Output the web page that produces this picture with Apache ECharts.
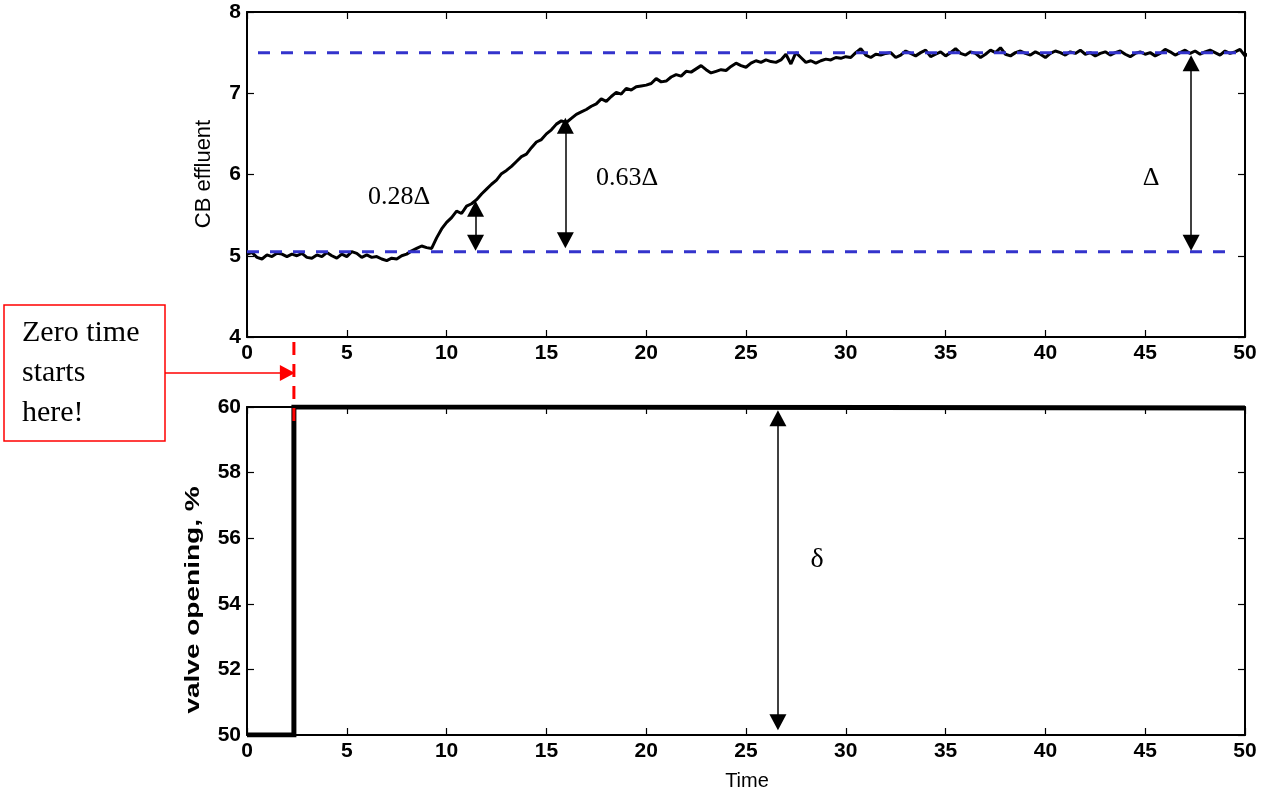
<!DOCTYPE html>
<html>
<head>
<meta charset="utf-8">
<script src="https://cdn.jsdelivr.net/npm/echarts@6/dist/echarts.min.js"></script>
<style>
html, body { margin: 0; padding: 0; background: #fff; }
#main { width: 1264px; height: 796px; }
</style>
</head>
<body>
<div id="main"></div>
<script>
// sampled every 0.25 time units, t = 0 .. 50
var timeStep = 0.25;
var cbEffluent = [
	5.02, 5.04, 4.98, 4.96, 5.01, 4.99, 5.03, 5.02,
	4.99, 5.02, 5.00, 5.03, 4.98, 4.97, 5.01, 4.99,
	5.04, 5.00, 4.97, 5.02, 4.99, 5.05, 5.03, 4.98,
	5.01, 4.98, 4.99, 4.96, 4.94, 4.97, 4.96, 5.00,
	5.02, 5.06, 5.09, 5.12, 5.10, 5.09, 5.22, 5.33,
	5.41, 5.47, 5.55, 5.52, 5.61, 5.64, 5.69, 5.76,
	5.82, 5.88, 5.93, 6.01, 6.05, 6.10, 6.16, 6.22,
	6.25, 6.33, 6.40, 6.43, 6.50, 6.55, 6.62, 6.66,
	6.64, 6.69, 6.74, 6.77, 6.80, 6.84, 6.87, 6.93,
	6.90, 6.96, 7.01, 6.99, 7.06, 7.04, 7.08, 7.09,
	7.10, 7.12, 7.18, 7.14, 7.15, 7.20, 7.23, 7.21,
	7.27, 7.26, 7.30, 7.34, 7.29, 7.25, 7.27, 7.29,
	7.28, 7.33, 7.37, 7.34, 7.32, 7.37, 7.40, 7.38,
	7.41, 7.39, 7.38, 7.41, 7.48, 7.36, 7.50, 7.44,
	7.38, 7.40, 7.37, 7.40, 7.42, 7.41, 7.44, 7.43,
	7.45, 7.44, 7.50, 7.55, 7.47, 7.44, 7.48, 7.47,
	7.49, 7.50, 7.44, 7.47, 7.52, 7.49, 7.46, 7.50,
	7.53, 7.45, 7.48, 7.51, 7.46, 7.50, 7.55, 7.49,
	7.47, 7.51, 7.49, 7.44, 7.48, 7.53, 7.50, 7.56,
	7.48, 7.46, 7.50, 7.52, 7.49, 7.47, 7.51, 7.48,
	7.44, 7.49, 7.52, 7.50, 7.47, 7.51, 7.49, 7.53,
	7.48, 7.50, 7.46, 7.49, 7.51, 7.47, 7.50, 7.52,
	7.48, 7.45, 7.49, 7.51, 7.48, 7.50, 7.46, 7.49,
	7.54, 7.51, 7.47, 7.50, 7.53, 7.49, 7.52, 7.48,
	7.51, 7.53, 7.50, 7.47, 7.52, 7.49, 7.51, 7.54,
	7.46, 7.50
];
// valve step
var valveTime = [0, 2.35, 2.35, 12.7, 12.7, 50];
var valveOpen = [50, 50, 60, 60, 59.97, 59.97];
var zeroTime = 2.35;

// reference levels (dashed blue)
var lowLevel = 5.05, highLevel = 7.5;
var lowLevelSpan = [0, 49.3];
var highLevelSpan = [0.55, 50];

// double arrows: [t, tip low, tip high]
var arrow28 = [11.45, 5.06, 5.68];
var arrow63 = [15.95, 5.09, 6.70];
var arrowDelta = [47.3, 5.06, 7.47];
var arrowSmall = [26.6, 50.15, 59.9];

// tick labels
var timeTicks = [0, 5, 10, 15, 20, 25, 30, 35, 40, 45, 50];
var cbTicks = [4, 5, 6, 7, 8];
var valveTicks = [50, 52, 54, 56, 58, 60];

var cbData = [];
for (var i = 0; i < cbEffluent.length; i++) {
	cbData.push([i * timeStep, cbEffluent[i]]);
}
var valveData = [];
for (var i = 0; i < valveTime.length; i++) {
	valveData.push([valveTime[i], valveOpen[i]]);
}

var tickFont = { fontFamily: 'Liberation Sans', fontWeight: 'bold', fontSize: 21, color: '#000' };

function xAxisOf(grid, pos, labels) {
	return {
		type: 'value', gridIndex: grid, position: pos,
		min: timeTicks[0], max: timeTicks[timeTicks.length - 1], interval: 5,
		axisLine: { show: true, onZero: false, lineStyle: { color: '#000', width: 2 } },
		axisTick: { show: true, inside: true, length: 7, lineStyle: { color: '#000', width: 1.2 } },
		axisLabel: Object.assign({ show: labels, margin: 6 }, tickFont),
		splitLine: { show: false }
	};
}
function yAxisOf(grid, pos, labels, ticks, step) {
	return {
		type: 'value', gridIndex: grid, position: pos,
		min: ticks[0], max: ticks[ticks.length - 1], interval: step,
		axisLine: { show: true, onZero: false, lineStyle: { color: '#000', width: 2 } },
		axisTick: { show: true, inside: true, length: 7, lineStyle: { color: '#000', width: 1.2 } },
		axisLabel: Object.assign({ show: labels, margin: 6 }, tickFont),
		splitLine: { show: false }
	};
}
// markLine symbols are centred on the end point, so pull ends in by half a head
function arrowLine(a, inset) {
	return [{ coord: [a[0], a[1] + inset] }, { coord: [a[0], a[2] - inset] }];
}
function levelLine(level, span) {
	return [[span[0], level], [span[1], level]];
}

var myChart = echarts.init(document.getElementById('main'));
var option = {
	animation: false,
	backgroundColor: '#fff',
	grid: [
		{ left: 247, right: 19, top: 12, height: 325 },
		{ left: 247, right: 19, top: 407, height: 328 }
	],
	xAxis: [
		xAxisOf(0, 'bottom', true),
		xAxisOf(0, 'top', false),
		xAxisOf(1, 'bottom', true),
		xAxisOf(1, 'top', false)
	],
	yAxis: [
		yAxisOf(0, 'left', true, cbTicks, 1),
		yAxisOf(0, 'right', false, cbTicks, 1),
		yAxisOf(1, 'left', true, valveTicks, 2),
		yAxisOf(1, 'right', false, valveTicks, 2)
	],
	series: [{
		name: 'CB effluent',
		type: 'line',
		xAxisIndex: 0, yAxisIndex: 0,
		showSymbol: false,
		data: cbData,
		lineStyle: { color: '#000', width: 3 },
		z: 3,
		markLine: {
			silent: true,
			symbol: ['triangle', 'triangle'],
			symbolSize: [17, 16],
			label: { show: false },
			lineStyle: { color: '#000', width: 1.5, type: 'solid' },
			data: [arrowLine(arrow28, 0.1), arrowLine(arrow63, 0.1), arrowLine(arrowDelta, 0.1)]
		}
	}, {
		name: 'low',
		type: 'line',
		xAxisIndex: 0, yAxisIndex: 0,
		showSymbol: false,
		data: levelLine(lowLevel, lowLevelSpan),
		lineStyle: { color: '#3333cc', width: 3, type: [12, 11] },
		z: 4
	}, {
		name: 'high',
		type: 'line',
		xAxisIndex: 0, yAxisIndex: 0,
		showSymbol: false,
		data: levelLine(highLevel, highLevelSpan),
		lineStyle: { color: '#3333cc', width: 3, type: [12, 11] },
		z: 4
	}, {
		name: 'valve',
		type: 'line',
		xAxisIndex: 2, yAxisIndex: 2,
		showSymbol: false,
		data: valveData,
		lineStyle: { color: '#000', width: 5, join: 'miter' },
		z: 3,
		markLine: {
			silent: true,
			symbol: ['triangle', 'triangle'],
			symbolSize: [17, 16],
			label: { show: false },
			lineStyle: { color: '#000', width: 1.5, type: 'solid' },
			data: [arrowLine(arrowSmall, 0.24)]
		}
	}]
};
myChart.setOption(option);

// annotations
var xz = myChart.convertToPixel({ xAxisIndex: 0 }, zeroTime);
var serif = 'Liberation Serif';
myChart.setOption({
	graphic: [
		{ type: 'text', x: 204, y: 174, rotation: Math.PI / 2,
			style: { text: 'CB effluent', font: '22px "Liberation Sans"', fill: '#000', align: 'center', verticalAlign: 'middle' } },
		{ type: 'text', x: 193, y: 600, rotation: Math.PI / 2, scaleX: 1.4,
			style: { text: 'valve opening, %', font: 'bold 20px "Liberation Sans"', fill: '#000', align: 'center', verticalAlign: 'middle' } },
		{ type: 'text', x: 747, y: 781,
			style: { text: 'Time', font: '20px "Liberation Sans"', fill: '#000', align: 'center', verticalAlign: 'middle' } },
		{ type: 'text', x: 399, y: 197,
			style: { text: '0.28Δ', font: '26px "' + serif + '"', fill: '#000', align: 'center', verticalAlign: 'middle' } },
		{ type: 'text', x: 627, y: 178,
			style: { text: '0.63Δ', font: '26px "' + serif + '"', fill: '#000', align: 'center', verticalAlign: 'middle' } },
		{ type: 'text', x: 1151, y: 178,
			style: { text: 'Δ', font: '26px "' + serif + '"', fill: '#000', align: 'center', verticalAlign: 'middle' } },
		{ type: 'text', x: 817, y: 560,
			style: { text: 'δ', font: '28px "' + serif + '"', fill: '#000', align: 'center', verticalAlign: 'middle' } },
		{ type: 'rect', shape: { x: 4, y: 305, width: 161, height: 136 },
			style: { fill: '#fff', stroke: '#ff0000', lineWidth: 1.5 }, z: 10 },
		{ type: 'text', x: 22, y: 333, z: 11,
			style: { text: 'Zero time', font: '30px "' + serif + '"', fill: '#000', align: 'left', verticalAlign: 'middle' } },
		{ type: 'text', x: 22, y: 373, z: 11,
			style: { text: 'starts', font: '30px "' + serif + '"', fill: '#000', align: 'left', verticalAlign: 'middle' } },
		{ type: 'text', x: 22, y: 413, z: 11,
			style: { text: 'here!', font: '30px "' + serif + '"', fill: '#000', align: 'left', verticalAlign: 'middle' } },
		{ type: 'line', shape: { x1: 165, y1: 373, x2: xz - 12, y2: 373 },
			style: { stroke: '#ff0000', lineWidth: 1.5 }, z: 10 },
		{ type: 'polygon', shape: { points: [[xz - 14, 365], [xz + 1, 373], [xz - 14, 381]] },
			style: { fill: '#ff0000' }, z: 10 },
		{ type: 'line', shape: { x1: xz, y1: 342, x2: xz, y2: 425 },
			style: { stroke: '#ff0000', lineWidth: 3, lineDash: [13, 9] }, z: 12 }
	]
});
</script>
</body>
</html>
